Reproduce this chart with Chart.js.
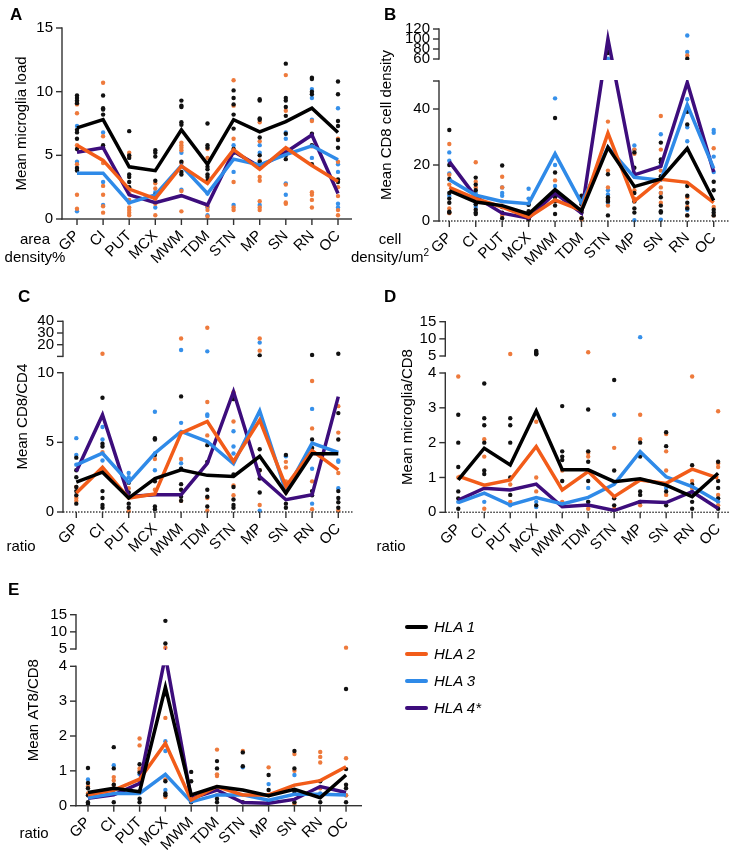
<!DOCTYPE html>
<html>
<head>
<meta charset="utf-8">
<script src="https://cdn.jsdelivr.net/npm/chart.js@4"></script>
<style>
  body { margin: 0; background: #fff; font-family: "Liberation Sans", Arial, sans-serif; color: #000; }
  #page { position: relative; width: 733px; height: 852px; overflow: hidden; }
  canvas { position: absolute; }
  .lbl { position: absolute; font-size: 15px; line-height: 18px; text-align: center; white-space: nowrap; }
  .letter { position: absolute; font-size: 17px; line-height: 17px; font-weight: bold; }
  .key { position: absolute; width: 23px; height: 4px; left: 405px; border-radius: 2px; }
  .keytxt { position: absolute; left: 434px; font-size: 15px; line-height: 18px; font-style: italic; }
  sup { font-size: 10px; line-height: 0; }
</style>
</head>
<body>
<div id="page">
  <canvas id="chartA" width="366" height="280" style="left:0;top:0"></canvas>
  <canvas id="chartB" width="367" height="280" style="left:366px;top:0"></canvas>
  <canvas id="chartC" width="366" height="290" style="left:0;top:280px"></canvas>
  <canvas id="chartD" width="367" height="290" style="left:366px;top:280px"></canvas>
  <canvas id="chartE" width="366" height="282" style="left:0;top:570px"></canvas>

  <div class="letter" style="left:10px;top:6px">A</div>
  <div class="letter" style="left:384px;top:6px">B</div>
  <div class="letter" style="left:18px;top:288px">C</div>
  <div class="letter" style="left:384px;top:288px">D</div>
  <div class="letter" style="left:8px;top:581px">E</div>

  <div class="lbl" style="left:0;top:230px;width:70px">area<br>density%</div>
  <div class="lbl" style="left:340px;top:230px;width:100px">cell<br>density/um<sup>2</sup></div>
  <div class="lbl" style="left:0;top:537px;width:42px">ratio</div>
  <div class="lbl" style="left:370px;top:537px;width:42px">ratio</div>
  <div class="lbl" style="left:13px;top:824px;width:42px">ratio</div>

  <div class="key" style="top:625px;background:#000000"></div>
  <div class="keytxt" style="top:618px">HLA 1</div>
  <div class="key" style="top:652px;background:#F25C19"></div>
  <div class="keytxt" style="top:645px">HLA 2</div>
  <div class="key" style="top:679px;background:#2F8AE8"></div>
  <div class="keytxt" style="top:672px">HLA 3</div>
  <div class="key" style="top:706px;background:#3D0D7C"></div>
  <div class="keytxt" style="top:699px">HLA 4*</div>
</div>

<script>
// ---------------------------
// Data
// ---------------------------
const CATS = ["GP", "CI", "PUT", "MCX", "MWM", "TDM", "STN", "MP", "SN", "RN", "OC"];

// A: mean microglia load
const aHla1 = [7.15, 7.8, 4.1, 3.8, 7.0, 4.3, 7.8, 6.85, 7.65, 8.7, 6.8];
const aHla2 = [5.8, 4.6, 2.35, 1.6, 4.15, 2.8, 5.45, 3.9, 5.6, 4.2, 2.95];
const aHla3 = [3.6, 3.6, 1.28, 1.9, 4.2, 2.0, 4.7, 4.25, 5.05, 5.75, 4.65];
const aHla4 = [5.25, 5.6, 1.9, 1.28, 1.83, 1.1, 5.3, 4.1, 5.25, 6.6, 2.0];
const aDots1 = [
  [9.7, 9.5, 9.3, 9.1, 7.0, 6.8, 6.3, 5.5, 4.0, 3.8],
  [9.7, 8.7, 8.6, 8.2, 5.8, 5.6],
  [6.9, 5.0, 4.8, 3.5, 3.3, 2.9, 2.5],
  [5.4, 5.2, 4.9, 3.0, 1.9],
  [9.3, 8.9, 8.8, 7.6, 7.4, 4.5, 3.7, 3.5],
  [7.5, 5.8, 5.6, 4.1, 3.9, 3.5, 3.3, 3.0],
  [10.1, 9.5, 9.0, 8.2, 7.1, 5.5, 5.2],
  [9.4, 9.3, 7.9, 7.8, 6.4, 5.0, 4.5],
  [12.2, 9.5, 9.3, 8.8, 8.1, 6.7, 5.2, 5.0, 4.7],
  [11.1, 11.0, 10.0, 9.8, 6.7, 5.8, 4.3],
  [10.8, 9.8, 7.7, 7.3, 6.2, 5.6, 3.1, 2.9]
];
const aDots2 = [
  [9.2, 9.0, 8.3, 5.8, 4.3, 1.9, 0.8],
  [10.7, 6.5, 4.4, 2.6, 1.9, 1.0, 0.5],
  [5.2, 4.9, 2.0, 1.5, 0.9, 0.7, 0.5, 0.3],
  [2.8, 2.4, 1.6, 1.2, 0.3],
  [6.0, 5.8, 5.6, 5.4, 4.4, 2.2, 0.6],
  [5.5, 4.8, 2.9, 1.0, 0.7, 0.2],
  [10.9, 8.9, 6.3, 2.9, 0.9, 0.7],
  [7.6, 6.1, 4.6, 3.3, 3.0, 1.4, 0.9, 0.7],
  [11.3, 8.5, 2.7, 1.3, 1.2],
  [7.7, 5.7, 2.1, 1.9, 1.5, 0.9],
  [6.3, 4.5, 2.5, 1.8, 0.7, 0.3]
];
const aDots3 = [
  [7.3, 4.5, 4.0, 0.6], [6.8, 2.9, 1.1], [1.3], [2.1, 0.9], [5.2, 2.3], [2.0, 0.9, 0.3],
  [5.8, 3.7, 1.1], [5.8, 5.2, 1.1], [6.8, 6.3, 2.8, 1.9], [10.2, 9.5, 7.8, 4.8], [8.7, 4.3, 3.7, 1.2, 0.9]
];

// B: mean CD8 cell density
const bHla1 = [10.8, 6.8, 5.5, 2.5, 11.2, 3.6, 26.3, 12.3, 15.0, 25.9, 7.3];
const bHla2 = [12.0, 8.0, 5.0, 1.3, 7.5, 3.8, 31.4, 7.1, 14.9, 13.8, 6.6];
const bHla3 = [14.7, 9.2, 7.0, 6.2, 24.0, 6.4, 26.4, 15.6, 14.6, 41.5, 18.8];
const bHla4 = [21.2, 8.6, 2.8, 1.0, 10.0, 2.8, 100, 16.5, 19.5, 49.5, 17.5];
const bDots1 = [
  [32.5, 20, 15, 10, 8, 6.5, 3.3, 3],
  [15.5, 13, 11, 8, 6, 4, 3, 2.5],
  [19.8, 5, 3, 1],
  [5.8, 3.5, 1.5, 0.5],
  [36.8, 17.3, 8.5, 7, 5.5, 2.5],
  [9, 7.5, 6, 3, 1],
  [75, 72, 16.7, 8.5, 7.5, 7, 2],
  [24.5, 19, 16, 10, 7, 4.5, 3],
  [28, 22, 21, 16, 8.5, 5.5, 3.5, 3],
  [60.5, 39, 34.5, 25.5, 12.5, 9, 6.5, 4.5, 2],
  [14, 11, 4, 3, 2]
];
const bDots2 = [
  [27.5, 16.5, 13, 4.5, 2.8], [21, 14, 12], [15.8, 12, 7, 2], [3, 1], [14.5, 10, 9.5], [8.5, 7, 1, 0.5],
  [35.5, 18, 12, 8, 5.5], [25.5, 24, 11, 8], [37.5, 25.5, 18, 12, 10, 6.5], [67, 8.5, 5, 2], [26, 5, 2]
];
const bDots3 = [
  [24.5, 21.5, 17, 9], [10, 6, 5], [12, 10, 9], [11.5, 8, 6], [43.8, 20, 12.5, 10], [7, 4],
  [60.5, 11, 9.5, 6.5], [27, 25.5, 17, 0.3], [31, 20, 10, 0.5], [107, 74, 43.5, 33.5, 28.5, 4], [32.5, 31.5, 23, 17.5]
];

// C: mean CD8/CD4
const cHla1 = [2.15, 2.86, 1.0, 2.4, 3.03, 2.63, 2.55, 4.0, 1.36, 4.18, 4.18];
const cHla2 = [1.36, 3.2, 1.0, 1.3, 5.66, 6.5, 3.63, 6.6, 1.84, 4.4, 3.03];
const cHla3 = [3.39, 4.22, 2.12, 4.22, 5.78, 5.06, 3.46, 7.26, 1.48, 4.94, 4.27];
const cHla4 = [2.9, 6.97, 1.12, 1.24, 1.24, 3.5, 8.64, 2.55, 0.88, 1.24, 8.28];
const cDots1 = [
  [3.9, 3.0, 2.5, 1.8, 1.5, 1.2, 0.6],
  [8.2, 4.9, 4.7, 1.5, 1.0, 0.5, 0.3],
  [2.1, 1.4, 0.6, 0.3],
  [5.3, 5.2, 4.1, 2.2, 0.4, 0.2],
  [8.3, 3.1, 2.0, 1.6, 1.1, 0.8],
  [4.8, 3.6, 1.6, 1.1, 0.4],
  [8.1, 2.7, 1.8, 0.9, 0.5, 0.3],
  [10.9, 4.5, 3.0, 2.4, 1.4],
  [4.1, 1.6, 0.6, 0.3],
  [11.2, 5.2, 4.6, 1.5, 1.2],
  [12.3, 7.1, 5.2, 1.5, 1.0, 0.7, 0.3]
];
const cDots2 = [
  [1.8, 1.0, 0.8], [12.3, 4.3, 3.0], [1.7, 0.05], [3.8, 1.6], [25.3, 3.8, 0.8], [34.5, 7.9, 5.5, 1.0, 0.1],
  [8.6, 6.5, 1.9, 1.2], [25.3, 14.9, 3.0, 0.5], [3.6, 3.2, 2.2, 1.4], [9.4, 6.0, 2.2, 0.2], [7.6, 5.7, 2.8, 0.1]
];
const cDots3 = [
  [5.3, 4.1, 3.4], [6.1, 5.2, 3.7], [2.8, 2.5], [7.2, 4.2, 3.0], [15.5, 6.4, 3.5, 3.1], [14.3, 7.0, 6.9],
  [5.8, 4.7, 4.2], [21.8, 0.1], [4.0], [7.4, 3.1, 0.6], [3.7, 3.6, 1.7]
];

// D: mean microglia/CD8
const dHla1 = [0.93, 1.84, 1.36, 2.91, 1.22, 1.22, 0.88, 0.96, 0.78, 0.45, 1.12];
const dHla2 = [1.04, 0.78, 0.93, 1.89, 0.64, 1.17, 0.45, 0.93, 0.83, 1.24, 0.98];
const dHla3 = [0.28, 0.55, 0.21, 0.42, 0.24, 0.43, 0.8, 1.74, 1.02, 0.74, 0.31];
const dHla4 = [0.35, 0.69, 0.64, 0.81, 0.16, 0.21, 0.05, 0.31, 0.28, 0.59, 0.11];
const dDots1 = [
  [2.8, 2.0, 1.3, 0.6, 0.4, 0.1],
  [3.7, 2.7, 2.5, 2.0, 1.2, 1.1],
  [2.7, 2.5, 2.0, 1.0, 0.5],
  [6.5, 6.2, 5.8, 5.5, 0.2],
  [3.05, 1.75, 1.6, 1.5, 0.9, 0.2],
  [2.95, 1.75, 1.45, 0.9, 0.3],
  [3.8, 1.2, 0.4, 0.2],
  [2.0, 1.6, 0.6, 0.5, 0.3],
  [2.3, 1.9, 0.6, 0.2],
  [1.35, 0.8, 0.3, 0.1],
  [1.45, 0.9, 0.7, 0.4, 0.1]
];
const dDots2 = [
  [3.9, 1.0], [2.1, 1.6, 0.1], [5.6, 0.8, 0.3], [2.6, 1.0, 0.6], [1.2, 0.3], [6.1, 1.7, 1.6, 0.1],
  [1.85, 0.1], [2.8, 2.1, 0.2], [2.25, 1.75, 1.2, 0.5], [3.9, 0.9, 0.7], [2.9, 1.4, 1.3, 0.5, 0.2]
];
const dDots3 = [[0.3], [0.3], [0.2], [0.3, 0.15], [0.2], [0.7, 0.3], [2.8], [10.5], [0.7], [0.6], [0.3]];

// E: mean AT8/CD8
const eHla1 = [0.38, 0.5, 0.4, 3.4, 0.31, 0.55, 0.45, 0.29, 0.47, 0.23, 0.88];
const eHla2 = [0.31, 0.45, 0.76, 1.79, 0.16, 0.55, 0.31, 0.31, 0.59, 0.72, 1.12];
const eHla3 = [0.23, 0.35, 0.35, 0.9, 0.11, 0.31, 0.31, 0.16, 0.33, 0.33, 0.31];
const eHla4 = [0.21, 0.31, 0.64, 4.6, 0.21, 0.45, 0.09, 0.07, 0.18, 0.55, 0.38];
const eDots1 = [
  [1.08, 0.65, 0.5, 0.3, 0.1, 0.05],
  [1.68, 1.07, 0.6, 0.35, 0.1],
  [1.19, 0.95, 0.2, 0.1],
  [13.2, 6.6, 3.2, 0.7, 0.35, 0.3],
  [0.97, 0.7, 0.1],
  [1.28, 1.07, 0.2, 0.1],
  [1.53, 1.13, 0.1],
  [0.88, 0.45, 0.1],
  [1.57, 1.07, 0.4, 0.1],
  [0.7, 0.1],
  [3.35, 1.05, 0.6, 0.5, 0.1]
];
const eDots2 = [
  [0.55, 0.35], [0.82, 0.72, 0.6], [1.93, 1.73, 1.07, 1.0], [5.4, 2.52, 0.75, 0.25], [0.2], [1.61, 0.9, 0.85, 0.3],
  [1.57], [1.1, 0.3], [1.48, 1.0, 0.05], [1.54, 1.4, 1.24, 0.5], [5.4, 1.36, 0.3]
];
const eDots3 = [[0.75], [1.16], [0.9], [1.85, 1.57, 0.45], [0.15], [0.5], [1.1], [0.62], [0.88], [0.35], [0.3]];

// y tick values (broken axes: lower + upper segment)
const aTicks = [0, 5, 10, 15];
const bTicks = [0, 20, 40, 50, 60, 80, 100, 120];
const cTicks = [0, 5, 10, 10.001, 20, 30, 40];
const dTicks = [0, 1, 2, 3, 4, 5, 10, 15];
const eTicks = [0, 1, 2, 3, 4, 5, 10, 15];

// ---------------------------
// Styling / layout
// ---------------------------
const LINE_COLORS = ["#000000", "#F25C19", "#2F8AE8", "#3D0D7C"];
const DOT_COLORS = ["#111111", "#EE7A3C", "#3690EA"];
const AXIS = "#333333";
const AXIS_W = 1.4;
const TICK_LEN = 6;
const FONT = { family: "'Liberation Sans', Arial, sans-serif", size: 15 };

Chart.defaults.font.family = FONT.family;
Chart.defaults.color = "#000";

// page pixel geometry per panel: canvas box, y axis x, right end, first/last category, segments [min,max,pixMin,pixMax]
const LAYOUT = {
  A: { left: 0, top: 0, w: 366, h: 280, axisX: 62, right: 352, gp: 77, oc: 338, titleX: 22,
       segs: [[0, 15, 219, 28]] },
  B: { left: 366, top: 0, w: 367, h: 280, axisX: 439, right: 729, gp: 449.3, oc: 713.7, titleX: 386.7,
       segs: [[0, 50, 221, 81], [60, 120, 59, 29]] },
  C: { left: 0, top: 280, w: 366, h: 290, axisX: 63, right: 352, gp: 76.3, oc: 338.3, titleX: 23.3,
       segs: [[0, 10, 512, 372.7], [10.001, 40, 356.4, 321.3]] },
  D: { left: 366, top: 280, w: 367, h: 290, axisX: 445.3, right: 729, gp: 458.3, oc: 718.7, titleX: 407.7,
       segs: [[0, 4, 512.3, 373], [5, 15, 356, 321.7]] },
  E: { left: 0, top: 570, w: 366, h: 282, axisX: 76, right: 362.7, gp: 88, oc: 346.7, titleX: 34.3,
       segs: [[0, 4, 805.7, 666.3], [5, 15, 649, 614.7]] }
};

// ---------------------------
// Broken y axis (piecewise linear)
// ---------------------------
class BrokenScale extends Chart.LinearScale {
  static id = "broken";
  static defaults = {};

  buildTicks() {
    return (this.tickVals || []).map(v => ({ value: v }));
  }

  toDecimal(v) {
    const segs = this.segs;
    for (let i = 0; i < segs.length; i++) {
      const s = segs[i];
      if (i > 0 && v < s.min) {
        const p = segs[i - 1];
        return p.to + (v - p.max) / (s.min - p.max) * (s.from - p.to);
      }
      if (v <= s.max || i === segs.length - 1) {
        return s.from + (v - s.min) / (s.max - s.min) * (s.to - s.from);
      }
    }
  }

  getPixelForValue(value) {
    if (value === null || value === undefined || isNaN(value)) return NaN;
    if (!this.segs) return super.getPixelForValue(value);
    return this.getPixelForDecimal(this.toDecimal(value));
  }
}
Chart.register(BrokenScale);

// white gap across the break, then axis lines + tick marks as filled bars
const brokenAxisPlugin = {
  id: "brokenAxis",
  afterDatasetsDraw(chart) {
    const { ctx, chartArea: a } = chart;
    const y = chart.scales.y;
    const segs = y.segs;
    ctx.save();
    ctx.fillStyle = "#fff";
    for (let i = 1; i < segs.length; i++) {
      const top = y.getPixelForValue(segs[i].min);
      const bot = y.getPixelForValue(segs[i - 1].max);
      ctx.fillRect(a.left + 1, top + 1, a.right - a.left + 4, bot - top - 2);
    }
    ctx.restore();
  },
  afterDraw(chart) {
    const { ctx, chartArea: a } = chart;
    const x = chart.scales.x;
    const y = chart.scales.y;
    const hw = AXIS_W / 2;
    ctx.save();
    ctx.fillStyle = AXIS;
    // y axis, one piece per segment
    y.segs.forEach(s => {
      const p0 = y.getPixelForValue(s.min);
      const p1 = y.getPixelForValue(s.max);
      ctx.fillRect(a.left - hw, p1 - hw, AXIS_W, p0 - p1 + AXIS_W);
    });
    y.ticks.forEach(t => {
      const p = y.getPixelForValue(t.value);
      ctx.fillRect(a.left - TICK_LEN, p - hw, TICK_LEN, AXIS_W);
    });
    // x axis at y = 0 (dotted on B-D)
    if (chart.$dashed) {
      for (let px = a.left; px < a.right; px += 3) ctx.fillRect(px, a.bottom - hw, 1.5, AXIS_W);
    } else {
      ctx.fillRect(a.left - hw, a.bottom - hw, a.right - a.left + hw, AXIS_W);
    }
    x.ticks.forEach(t => {
      const p = x.getPixelForValue(t.value);
      ctx.fillRect(p - hw, a.bottom, AXIS_W, TICK_LEN);
    });
    ctx.restore();
  }
};

function toPoints(groups) {
  return groups.flatMap((vals, i) => vals.map(v => ({ x: i, y: v })));
}

function makePanel(id, L, means, dots, ticks, hidden, yTitle, dashed) {
  const sp = (L.oc - L.gp) / 10;
  const y0 = L.segs[0][2];
  const yTop = L.segs[L.segs.length - 1][3];
  const H = y0 - yTop;
  const segs = L.segs.map(s => ({ min: s[0], max: s[1], from: (y0 - s[2]) / H, to: (y0 - s[3]) / H }));

  const datasets = [
    ...means.map((m, k) => ({
      data: m.map((v, i) => ({ x: i, y: v })),
      borderColor: LINE_COLORS[k],
      borderWidth: 3.5,
      pointRadius: 0,
      tension: 0,
      fill: false
    })),
    ...dots.map((d, k) => ({
      data: toPoints(d),
      showLine: false,
      pointRadius: 2.2,
      pointBorderWidth: 0,
      pointBackgroundColor: DOT_COLORS[k],
      borderColor: DOT_COLORS[k],
      clip: false
    }))
  ];

  // CPU-backed 2d context
  const ctx = document.getElementById(id).getContext("2d", { willReadFrequently: true });

  const chart = new Chart(ctx, {
    type: "line",
    data: { datasets },
    plugins: [brokenAxisPlugin],
    options: {
      responsive: false,
      animation: false,
      events: [],
      layout: { padding: { top: yTop - L.top, right: L.left + L.w - L.right, left: 0, bottom: 0 } },
      plugins: { legend: { display: false }, tooltip: { enabled: false } },
      scales: {
        x: {
          type: "linear",
          min: -(L.gp - L.axisX) / sp,
          max: 10 + (L.right - L.oc) / sp,
          afterBuildTicks: s => { s.ticks = CATS.map((c, i) => ({ value: i })); },
          afterFit: s => { s.height = L.top + L.h - y0; },
          ticks: {
            autoSkip: false, minRotation: 45, maxRotation: 45, padding: 2,
            font: FONT, color: "#000",
            callback: v => CATS[v]
          },
          grid: { drawOnChartArea: false, tickLength: TICK_LEN, color: "rgba(0,0,0,0)" },
          border: { display: false }
        },
        y: {
          type: "broken",
          min: segs[0].min,
          max: segs[segs.length - 1].max,
          afterDataLimits: s => { s.segs = segs; s.tickVals = ticks; },
          afterFit: s => { s.width = L.axisX - L.left; },
          ticks: {
            font: FONT, color: "#000", padding: 3,
            callback: v => (hidden.includes(v) ? "" : String(v))
          },
          grid: { drawOnChartArea: false, tickLength: TICK_LEN, color: "rgba(0,0,0,0)" },
          border: { display: false },
          title: {
            display: true, text: yTitle, color: "#000", font: FONT,
            padding: { top: L.titleX - L.left - 9, bottom: 0 }
          }
        }
      }
    }
  });
  chart.$dashed = dashed;
  chart.draw();
  return chart;
}

makePanel("chartA", LAYOUT.A, [aHla1, aHla2, aHla3, aHla4], [aDots1, aDots2, aDots3], aTicks, [], "Mean microglia load", false);
makePanel("chartB", LAYOUT.B, [bHla1, bHla2, bHla3, bHla4], [bDots1, bDots2, bDots3], bTicks, [50], "Mean CD8 cell density", true);
makePanel("chartC", LAYOUT.C, [cHla1, cHla2, cHla3, cHla4], [cDots1, cDots2, cDots3], cTicks, [10.001], "Mean CD8/CD4", true);
makePanel("chartD", LAYOUT.D, [dHla1, dHla2, dHla3, dHla4], [dDots1, dDots2, dDots3], dTicks, [], "Mean microglia/CD8", true);
makePanel("chartE", LAYOUT.E, [eHla1, eHla2, eHla3, eHla4], [eDots1, eDots2, eDots3], eTicks, [], "Mean AT8/CD8", false);
</script>
</body>
</html>
